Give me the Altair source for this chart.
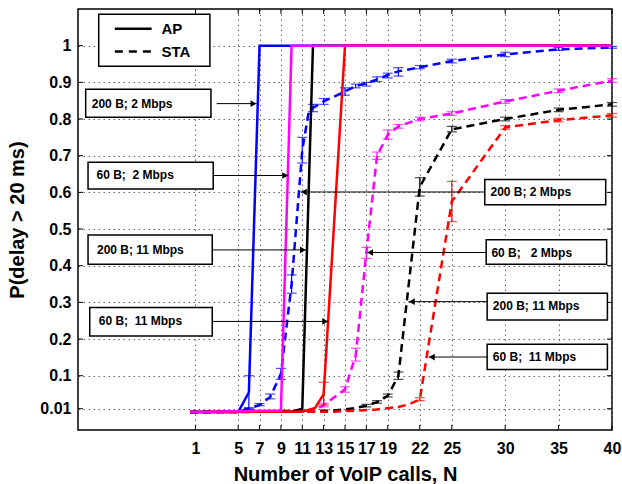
import altair as alt
import pandas as pd

FONT = "Liberation Sans"

# ---------------- axis ticks ----------------
x_ticks = [1, 5, 7, 9, 11, 13, 15, 17, 19, 22, 25, 30, 35, 40]
y_ticks = [0.01, 0.1, 0.2, 0.3, 0.4, 0.5, 0.6, 0.7, 0.8, 0.9, 1.0]

# ---------------- AP curves (solid) ----------------
ap_200_2_x = [0.5, 5, 6, 7, 40]
ap_200_2_y = [0.001, 0.001, 0.055, 1.0, 1.0]
ap_200_2_err_x = [6]
ap_200_2_err_lo = [0.01]
ap_200_2_err_hi = [0.1]

ap_60_2_x = [0.5, 9, 10, 40]
ap_60_2_y = [0.001, 0.005, 1.0, 1.0]

ap_200_11_x = [0.5, 10, 11, 12, 40]
ap_200_11_y = [0.001, 0.002, 0.01, 1.0, 1.0]

ap_60_11_x = [0.5, 11, 12.2, 13, 15, 40]
ap_60_11_y = [0.001, 0.002, 0.012, 0.05, 1.0, 1.0]
ap_60_11_err_x = [13]
ap_60_11_err_lo = [0.02]
ap_60_11_err_hi = [0.082]

# ---------------- STA curves (dashed) ----------------
sta_200_2_x = [0.5, 5, 6, 7, 8, 9, 10, 11, 11.6, 12, 13, 15, 16, 17, 18, 19, 20, 22, 25, 30, 35, 40]
sta_200_2_y = [0.001, 0.001, 0.011, 0.02, 0.042, 0.105, 0.35, 0.715, 0.82, 0.83, 0.848, 0.875,
               0.89, 0.897, 0.908, 0.92, 0.93, 0.941, 0.958, 0.976, 0.99, 0.995]
sta_200_2_err_x = [6, 7, 8, 9, 10, 11, 12, 13, 15, 16, 17, 18, 19, 20, 22, 25, 30, 35, 40]
sta_200_2_err_lo = [0.008, 0.018, 0.037, 0.09, 0.325, 0.68, 0.82, 0.84, 0.865, 0.885, 0.89, 0.902,
                    0.912, 0.917, 0.937, 0.953, 0.97, 0.987, 0.993]
sta_200_2_err_hi = [0.013, 0.024, 0.05, 0.12, 0.375, 0.75, 0.84, 0.856, 0.885, 0.895, 0.9, 0.915,
                    0.925, 0.94, 0.946, 0.963, 0.982, 0.995, 0.998]

sta_60_2_x = [0.5, 12, 13, 15, 16, 17, 18, 19, 20, 22, 25, 30, 35, 40]
sta_60_2_y = [0.001, 0.003, 0.02, 0.063, 0.155, 0.435, 0.70, 0.757, 0.78, 0.80, 0.815, 0.848, 0.877, 0.905]
sta_60_2_err_x = [13, 15, 16, 17, 18, 19, 20, 22, 25, 30, 35, 40]
sta_60_2_err_lo = [0.015, 0.055, 0.14, 0.42, 0.69, 0.745, 0.775, 0.795, 0.81, 0.843, 0.872, 0.9]
sta_60_2_err_hi = [0.025, 0.07, 0.175, 0.45, 0.71, 0.77, 0.785, 0.805, 0.82, 0.853, 0.882, 0.91]

sta_200_11_x = [0.5, 14, 16, 17, 18, 19, 20, 22, 25, 30, 35, 40]
sta_200_11_y = [0.001, 0.005, 0.012, 0.018, 0.028, 0.045, 0.10, 0.615, 0.772, 0.80, 0.825, 0.84]
sta_200_11_err_x = [17, 18, 19, 20, 22, 25, 30, 35, 40]
sta_200_11_err_lo = [0.015, 0.025, 0.042, 0.09, 0.59, 0.765, 0.795, 0.82, 0.835]
sta_200_11_err_hi = [0.022, 0.032, 0.05, 0.11, 0.64, 0.78, 0.805, 0.83, 0.845]

sta_60_11_x = [0.5, 14, 18, 20, 21, 22, 25, 30, 35, 40]
sta_60_11_y = [0.001, 0.002, 0.008, 0.015, 0.022, 0.035, 0.575, 0.777, 0.797, 0.81]
sta_60_11_err_x = [22, 25, 30, 35, 40]
sta_60_11_err_lo = [0.032, 0.52, 0.772, 0.792, 0.805]
sta_60_11_err_hi = [0.04, 0.63, 0.782, 0.802, 0.815]

# ---------------- annotations ----------------
box_labels = ["200 B; 2 Mbps", "60 B;\u00a0 2 Mbps", "200 B; 11 Mbps", "60 B;\u00a0 11 Mbps",
              "200 B; 2 Mbps", "60 B;\u00a0\u00a0 2 Mbps", "200 B; 11 Mbps", "60 B;\u00a0 11 Mbps"]
box_x1 = [-9.28, -9.06, -9.06, -8.9, 28.09, 28.22, 28.31, 28.31]
box_x2 = [2.45, 2.66, 2.57, 2.57, 39.41, 39.5, 39.57, 39.57]
box_y1 = [0.805, 0.609, 0.404, 0.208, 0.566, 0.404, 0.252, 0.117]
box_y2 = [0.881, 0.682, 0.484, 0.286, 0.635, 0.471, 0.325, 0.186]
text_x = [-8.71, -8.27, -8.22, -8.06, 28.62, 28.71, 28.84, 28.84]
text_y = [0.842, 0.646, 0.443, 0.248, 0.601, 0.436, 0.289, 0.151]
arrow_from = [2.98, 2.66, 2.57, 2.57, 28.09, 28.22, 28.31, 28.31]
arrow_to = [6.73, 9.7, 11.36, 13.45, 10.85, 17.05, 20.96, 22.83]
arrow_y = [0.842, 0.646, 0.443, 0.248, 0.601, 0.436, 0.302, 0.151]

legend_labels = ["AP", "STA"]
legend_y = [1.046, 0.984]

# ---------------- scales / encodings ----------------
xscale = alt.Scale(domain=[-10, 40], nice=False, zero=False)
yscale = alt.Scale(domain=[-0.048, 1.1], nice=False, zero=False)

xaxis = alt.Axis(values=x_ticks, grid=True, gridDash=[1.5, 3.5], gridColor="#666", gridWidth=1,
                 ticks=False, domain=False, labelFont=FONT, labelFontWeight="bold", labelFontSize=16,
                 labelColor="black", labelPadding=10, labelFlush=False, labelOverlap=False,
                 titleFont=FONT, titleFontWeight="bold", titleFontSize=20, titleColor="black",
                 titlePadding=8)
yaxis = alt.Axis(values=y_ticks, format="~g", grid=True, gridDash=[1.5, 3.5], gridColor="#666",
                 gridWidth=1, ticks=False, domain=False, labelFont=FONT, labelFontWeight="bold",
                 labelFontSize=16, labelColor="black", labelPadding=7, labelFlush=False,
                 labelOverlap=False, titleFont=FONT, titleFontWeight="bold", titleFontSize=20,
                 titleColor="black", titlePadding=12)

X = alt.X("x:Q", scale=xscale, axis=xaxis, title="Number of VoIP calls, N")
Y = alt.Y("y:Q", scale=yscale, axis=yaxis, title="P(delay > 20 ms)")

layers = []

# frame ticks (inward)
xt = pd.DataFrame({"x": x_ticks})
yt = pd.DataFrame({"y": y_ticks})
layers.append(alt.Chart(xt).mark_rule(color="black", strokeWidth=1).encode(x=X, y=alt.value(0), y2=alt.value(5)))
layers.append(alt.Chart(xt).mark_rule(color="black", strokeWidth=1).encode(x=X, y=alt.value(421), y2=alt.value(416)))
layers.append(alt.Chart(yt).mark_rule(color="black", strokeWidth=1).encode(y=Y, x=alt.value(0), x2=alt.value(5)))
layers.append(alt.Chart(yt).mark_rule(color="black", strokeWidth=1).encode(y=Y, x=alt.value(534), x2=alt.value(529)))

DASH = [8, 5]

def add_series(xs, ys, color, dashed, ex=None, elo=None, ehi=None):
    df = pd.DataFrame({"x": xs, "y": ys})
    kw = dict(color=color, strokeWidth=2.5, strokeCap="butt", clip=True)
    if dashed:
        kw["strokeDash"] = DASH
    layers.append(alt.Chart(df).mark_line(**kw).encode(x=X, y=Y))
    if ex:
        edf = pd.DataFrame({"x": ex, "y": elo, "y2": ehi})
        layers.append(alt.Chart(edf).mark_rule(color=color, strokeWidth=1.2).encode(x=X, y=Y, y2="y2:Q"))
        for col in ["y", "y2"]:
            tdf = pd.DataFrame({"x": ex, "y": edf[col]})
            layers.append(alt.Chart(tdf).mark_tick(color=color, orient="horizontal", size=10,
                                                   thickness=1.2).encode(x=X, y=Y))

BLUE, MAG, BLK, RED = "#0000ff", "#ff00ff", "#000000", "#ff0000"

add_series(sta_200_2_x, sta_200_2_y, BLUE, True, sta_200_2_err_x, sta_200_2_err_lo, sta_200_2_err_hi)
add_series(sta_200_11_x, sta_200_11_y, BLK, True, sta_200_11_err_x, sta_200_11_err_lo, sta_200_11_err_hi)
add_series(sta_60_2_x, sta_60_2_y, MAG, True, sta_60_2_err_x, sta_60_2_err_lo, sta_60_2_err_hi)
add_series(sta_60_11_x, sta_60_11_y, RED, True, sta_60_11_err_x, sta_60_11_err_lo, sta_60_11_err_hi)
add_series(ap_200_2_x, ap_200_2_y, BLUE, False, ap_200_2_err_x, ap_200_2_err_lo, ap_200_2_err_hi)
add_series(ap_200_11_x, ap_200_11_y, BLK, False)
add_series(ap_60_11_x, ap_60_11_y, RED, False, ap_60_11_err_x, ap_60_11_err_lo, ap_60_11_err_hi)
add_series(ap_60_2_x, ap_60_2_y, MAG, False)

# annotation boxes
bdf = pd.DataFrame({"x": box_x1, "x2": box_x2, "y": box_y1, "y2": box_y2})
layers.append(alt.Chart(bdf).mark_rect(fill="white", stroke="black", strokeWidth=1.5).encode(
    x=X, x2="x2:Q", y=Y, y2="y2:Q"))
tdf = pd.DataFrame({"x": text_x, "y": text_y, "t": box_labels})
layers.append(alt.Chart(tdf).mark_text(align="left", baseline="middle", font=FONT, fontWeight="bold",
                                        fontSize=12, color="black").encode(x=X, y=Y, text="t:N"))
adf = pd.DataFrame({"x": arrow_from, "x2": arrow_to, "y": arrow_y})
layers.append(alt.Chart(adf).mark_rule(color="black", strokeWidth=1).encode(x=X, x2="x2:Q", y=Y))
head_x = [t - 0.3 if t > f else t + 0.3 for f, t in zip(arrow_from, arrow_to)]
head_shape = ["triangle-right" if t > f else "triangle-left" for f, t in zip(arrow_from, arrow_to)]
hdf = pd.DataFrame({"x": head_x, "y": arrow_y, "s": head_shape})
layers.append(alt.Chart(hdf).mark_point(filled=True, color="black", size=45, opacity=1).encode(
    x=X, y=Y, shape=alt.Shape("s:N", scale=None, legend=None)))

# legend
ldf = pd.DataFrame({"x": [-8.06], "x2": [2.35], "y": [0.944], "y2": [1.086]})
layers.append(alt.Chart(ldf).mark_rect(fill="white", stroke="black", strokeWidth=1.5).encode(
    x=X, x2="x2:Q", y=Y, y2="y2:Q"))
l1 = pd.DataFrame({"x": [-6.55], "x2": [-3.11], "y": [legend_y[0]]})
l2 = pd.DataFrame({"x": [-6.55], "x2": [-3.11], "y": [legend_y[1]]})
layers.append(alt.Chart(l1).mark_rule(color="black", strokeWidth=2.5).encode(x=X, x2="x2:Q", y=Y))
layers.append(alt.Chart(l2).mark_rule(color="black", strokeWidth=2.5, strokeDash=[8, 6]).encode(
    x=X, x2="x2:Q", y=Y))
ltdf = pd.DataFrame({"x": [-2.18, -2.18], "y": legend_y, "t": legend_labels})
layers.append(alt.Chart(ltdf).mark_text(align="left", baseline="middle", font=FONT, fontWeight="bold",
                                         fontSize=15, color="black").encode(x=X, y=Y, text="t:N"))

chart = alt.layer(*layers).properties(
    width=534, height=421,
    autosize=alt.AutoSizeParams(type="none"),
    padding={"left": 78, "top": 9, "right": 10, "bottom": 54},
    background="white",
).configure_view(stroke="black", strokeWidth=1.5)

chart.save("out.html", embed_options={"renderer": "svg", "actions": False})
